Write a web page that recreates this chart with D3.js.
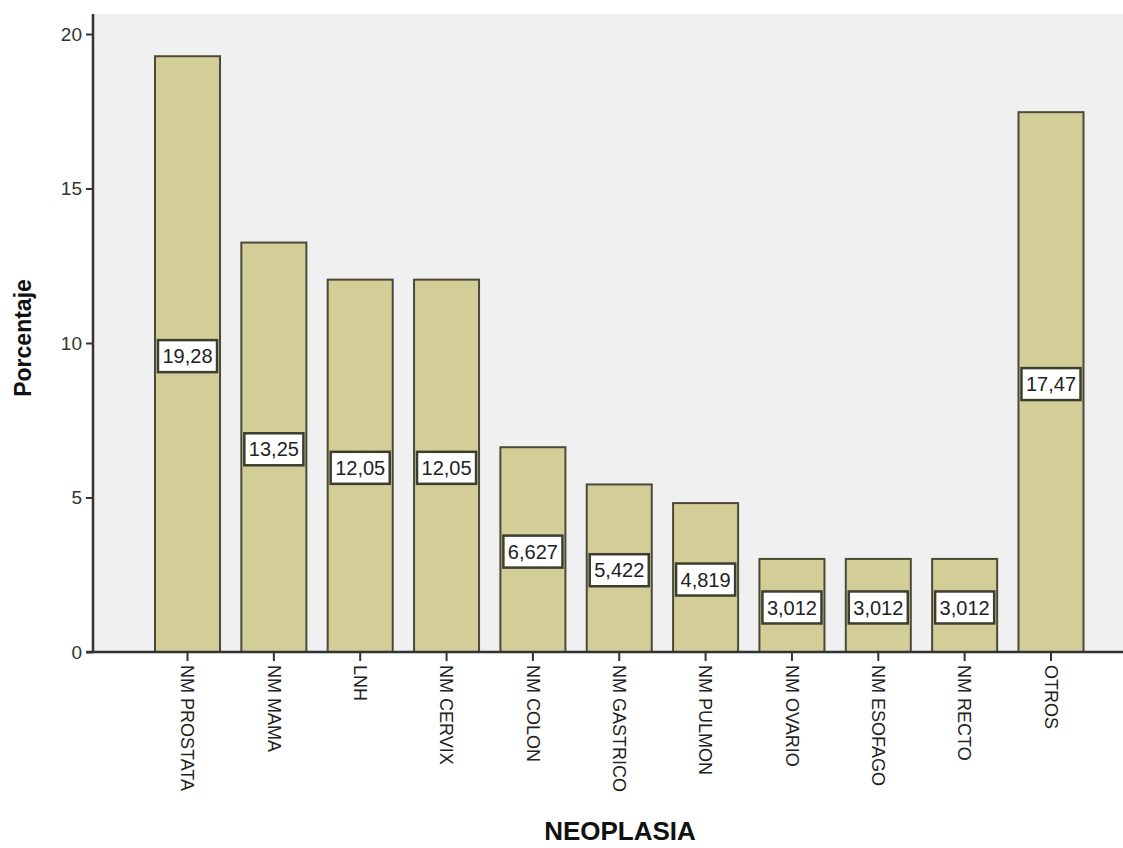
<!DOCTYPE html>
<html>
<head>
<meta charset="utf-8">
<script src="https://cdn.jsdelivr.net/npm/d3@7"></script>
<style>
  html, body { margin: 0; padding: 0; background: #ffffff; }
  svg { display: block; font-family: Arial, "Liberation Sans", sans-serif; }
</style>
</head>
<body>
<svg id="chart" width="1123" height="848"></svg>
<script>
// Neoplasia categories and their percentages
const categories = ["NM PROSTATA", "NM MAMA", "LNH", "NM CERVIX", "NM COLON",
  "NM GASTRICO", "NM PULMON", "NM OVARIO", "NM ESOFAGO", "NM RECTO", "OTROS"];
const percentages = [19.28, 13.25, 12.05, 12.05, 6.627, 5.422, 4.819, 3.012, 3.012, 3.012, 17.47];
const yTicks = [0, 5, 10, 15, 20];
const xTitle = "NEOPLASIA";
const yTitle = "Porcentaje";

const W = 1123, H = 848;
const axisX = 93, plotTop = 14, baseY = 652;

const svg = d3.select("#chart");

const x = d3.scaleBand()
  .domain(categories)
  .range([axisX, 1145.5])
  .paddingInner(0.247)
  .paddingOuter(0.718);

const y = d3.scaleLinear().domain([0, 20]).range([baseY, 34]);

// plot background
svg.append("rect")
  .attr("x", axisX).attr("y", plotTop)
  .attr("width", W - axisX).attr("height", baseY - plotTop)
  .attr("fill", "#f0f0f0");

// bars
svg.append("g").selectAll("rect")
  .data(categories)
  .join("rect")
  .attr("x", d => x(d))
  .attr("y", (d, i) => y(percentages[i]))
  .attr("width", x.bandwidth())
  .attr("height", (d, i) => baseY - y(percentages[i]))
  .attr("fill", "#d3ce98")
  .attr("stroke", "#4b4a3a")
  .attr("stroke-width", 2);

// y axis
const yAxis = svg.append("g")
  .attr("transform", `translate(${axisX},0)`)
  .call(d3.axisLeft(y).tickValues(yTicks).tickSize(7).tickPadding(4).tickFormat(d3.format("d")));
yAxis.select(".domain").remove();
yAxis.selectAll(".tick line").attr("stroke", "#333").attr("stroke-width", 2);
yAxis.selectAll(".tick text").attr("font-size", 19).attr("fill", "#333")
  .attr("font-family", "Arial, 'Liberation Sans', sans-serif");
svg.append("line")
  .attr("x1", axisX).attr("x2", axisX)
  .attr("y1", plotTop).attr("y2", baseY + 1)
  .attr("stroke", "#333").attr("stroke-width", 2.5);

// x axis
const xAxis = svg.append("g")
  .attr("transform", `translate(0,${baseY})`)
  .call(d3.axisBottom(x).tickSize(9).tickPadding(4));
xAxis.select(".domain").remove();
xAxis.selectAll(".tick line").attr("stroke", "#333").attr("stroke-width", 2);
xAxis.selectAll(".tick text")
  .attr("font-size", 18)
  .attr("fill", "#222")
  .attr("font-family", "Arial, 'Liberation Sans', sans-serif")
  .attr("text-anchor", "start")
  .attr("dy", "0.35em")
  .attr("transform", "translate(0,13) rotate(90)")
  .attr("x", 0).attr("y", 0);
svg.append("line")
  .attr("x1", axisX - 7).attr("x2", W)
  .attr("y1", baseY).attr("y2", baseY)
  .attr("stroke", "#333").attr("stroke-width", 2.5);

// value labels at mid-height of each bar
const lbl = svg.append("g").selectAll("g")
  .data(categories)
  .join("g")
  .attr("transform", (d, i) => `translate(${x(d) + x.bandwidth() / 2},${y(percentages[i] / 2) + 2})`);
lbl.append("rect").attr("class", "box");
lbl.append("text")
  .text((d, i) => String(percentages[i]).replace(".", ","))
  .attr("text-anchor", "middle")
  .attr("dy", "0.36em")
  .attr("font-size", 20)
  .attr("fill", "#222");
lbl.each(function () {
  const g = d3.select(this);
  const bb = g.select("text").node().getBBox();
  const w = bb.width + 9, h = 32;
  g.select("rect.box")
    .attr("x", -w / 2).attr("y", -h / 2)
    .attr("width", w).attr("height", h)
    .attr("fill", "#ffffff")
    .attr("stroke", "#3d3d30")
    .attr("stroke-width", 2.5);
});

// axis titles
svg.append("text")
  .text(xTitle)
  .attr("x", 620).attr("y", 840)
  .attr("text-anchor", "middle")
  .attr("font-size", 26)
  .attr("font-weight", "bold")
  .attr("fill", "#111");
svg.append("text")
  .text(yTitle)
  .attr("transform", "translate(31,338) rotate(-90)")
  .attr("text-anchor", "middle")
  .attr("font-size", 23)
  .attr("font-weight", "bold")
  .attr("fill", "#111");
</script>
</body>
</html>
